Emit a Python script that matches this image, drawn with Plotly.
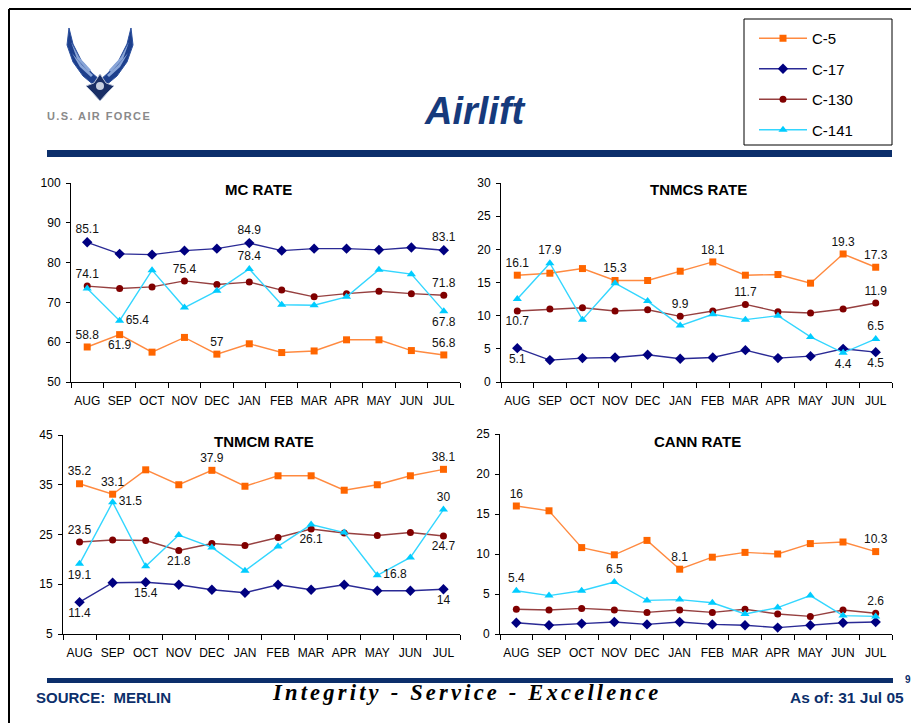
import plotly.graph_objects as go

# ---------------- data ----------------
months = ["AUG", "SEP", "OCT", "NOV", "DEC", "JAN", "FEB", "MAR", "APR", "MAY", "JUN", "JUL"]
series_names = ["C-5", "C-17", "C-130", "C-141"]

mc_c5 = [58.8, 61.9, 57.5, 61.2, 57, 59.6, 57.4, 57.8, 60.6, 60.6, 57.9, 56.8]
mc_c17 = [85.1, 82.2, 82.0, 83.0, 83.5, 84.9, 83.0, 83.5, 83.5, 83.2, 83.8, 83.1]
mc_c130 = [74.1, 73.5, 73.9, 75.4, 74.5, 75.1, 73.1, 71.4, 72.2, 72.8, 72.2, 71.8]
mc_c141 = [73.5, 65.4, 78.1, 68.7, 72.9, 78.4, 69.4, 69.3, 71.4, 78.2, 77.1, 67.8]

tnmcs_c5 = [16.1, 16.4, 17.1, 15.3, 15.3, 16.7, 18.1, 16.1, 16.2, 14.9, 19.3, 17.3]
tnmcs_c17 = [5.1, 3.3, 3.6, 3.7, 4.1, 3.5, 3.7, 4.8, 3.6, 3.9, 5.0, 4.5]
tnmcs_c130 = [10.7, 11.0, 11.2, 10.7, 10.9, 9.9, 10.7, 11.7, 10.6, 10.4, 11.0, 11.9]
tnmcs_c141 = [12.5, 17.9, 9.4, 14.9, 12.2, 8.5, 10.2, 9.4, 10.0, 6.8, 4.4, 6.5]

tnmcm_c5 = [35.2, 33.1, 38.0, 35.0, 37.9, 34.7, 36.8, 36.8, 33.9, 35.0, 36.8, 38.1]
tnmcm_c17 = [11.4, 15.3, 15.4, 14.9, 13.9, 13.3, 14.9, 13.9, 14.9, 13.7, 13.7, 14]
tnmcm_c130 = [23.5, 23.9, 23.8, 21.8, 23.2, 22.8, 24.4, 26.1, 25.3, 24.8, 25.4, 24.7]
tnmcm_c141 = [19.1, 31.5, 18.6, 24.9, 22.4, 17.7, 22.6, 27.0, 25.4, 16.8, 20.4, 30]

cann_c5 = [16, 15.4, 10.8, 9.9, 11.7, 8.1, 9.6, 10.2, 10.0, 11.3, 11.5, 10.3]
cann_c17 = [1.4, 1.1, 1.3, 1.5, 1.2, 1.5, 1.2, 1.1, 0.8, 1.1, 1.4, 1.5]
cann_c130 = [3.1, 3.0, 3.2, 3.0, 2.7, 3.0, 2.7, 3.1, 2.5, 2.2, 3.0, 2.6]
cann_c141 = [5.4, 4.8, 5.4, 6.5, 4.2, 4.3, 3.9, 2.5, 3.3, 4.8, 2.3, 2.2]

chart_titles = ["MC RATE", "TNMCS RATE", "TNMCM RATE", "CANN RATE"]
chart_data = [
    [mc_c5, mc_c17, mc_c130, mc_c141],
    [tnmcs_c5, tnmcs_c17, tnmcs_c130, tnmcs_c141],
    [tnmcm_c5, tnmcm_c17, tnmcm_c130, tnmcm_c141],
    [cann_c5, cann_c17, cann_c130, cann_c141],
]
y_ranges = [(50, 100, 10), (0, 30, 5), (5, 45, 10), (0, 25, 5)]

# which points carry a value label, and where ("t" above, "b" below, "r" right)
point_labels = [
    {"C-5": {"AUG": "t", "SEP": "b", "DEC": "t", "JUL": "t"},
     "C-17": {"AUG": "t", "JAN": "t", "JUL": "t"},
     "C-130": {"AUG": "t", "NOV": "t", "JUL": "t"},
     "C-141": {"SEP": "r", "JAN": "t", "JUL": "b"}},
    {"C-5": {"AUG": "t", "NOV": "t", "FEB": "t", "JUN": "t", "JUL": "t"},
     "C-17": {"AUG": "b", "JUL": "b"},
     "C-130": {"AUG": "b", "JAN": "t", "MAR": "t", "JUL": "t"},
     "C-141": {"SEP": "t", "JUN": "b", "JUL": "t"}},
    {"C-5": {"AUG": "t", "SEP": "t", "DEC": "t", "JUL": "t"},
     "C-17": {"AUG": "b", "OCT": "b", "JUL": "b"},
     "C-130": {"AUG": "t", "NOV": "b", "MAR": "b", "JUL": "b"},
     "C-141": {"AUG": "b", "SEP": "r", "MAY": "r", "JUL": "t"}},
    {"C-5": {"AUG": "t", "JAN": "t", "JUL": "t"},
     "C-17": {},
     "C-130": {"JUL": "t"},
     "C-141": {"AUG": "t", "NOV": "t"}},
]

# ---------------- styling ----------------
PAGE_W, PAGE_H = 919, 723
OFF = 8                      # default body margin of the html page
W, H = PAGE_W - OFF, PAGE_H - OFF
FONT = "Liberation Sans, Arial, sans-serif"
NAVY = "#0c2f6b"
marker_colors = {"C-5": "#FF6600", "C-17": "#000080", "C-130": "#800000", "C-141": "#00CCFF"}
line_colors = {"C-5": "#FF8A40", "C-17": "#2a2a95", "C-130": "#964040", "C-141": "#33D6FF"}
symbols = {"C-5": "square", "C-17": "diamond", "C-130": "circle", "C-141": "triangle-up"}
msizes = {"C-5": 7, "C-17": 8, "C-130": 7, "C-141": 8}
pos_map = {"t": "top center", "b": "bottom center", "r": "middle right"}


def px(x):
    return (x - OFF) / W


def py(y):
    return 1 - (y - OFF) / H


# plot areas in page pixels: (left, right, top, bottom)
areas = [(71, 460, 183, 382), (501, 892, 183, 382), (63, 460, 435, 634), (500, 892, 434, 634)]
title_pos = [(258, 190), (698, 190), (264, 441), (697, 441)]

fig = go.Figure()

for ci in range(4):
    ax = "" if ci == 0 else str(ci + 1)
    for si, name in enumerate(series_names):
        vals = chart_data[ci][si]
        labs = point_labels[ci][name]
        texts = [("%g" % v) if m in labs else "" for m, v in zip(months, vals)]
        tpos = [pos_map[labs[m]] if m in labs else "top center" for m in months]
        fig.add_trace(go.Scatter(
            x=months, y=vals, name=name,
            mode="lines+markers+text",
            text=texts, textposition=tpos,
            textfont=dict(family=FONT, size=12, color="#111111"),
            line=dict(color=line_colors[name], width=1.4),
            marker=dict(symbol=symbols[name], size=msizes[name], color=marker_colors[name],
                        line=dict(width=0)),
            xaxis="x" + ax, yaxis="y" + ax,
            showlegend=(ci == 0), legendgroup=name,
            cliponaxis=False, hoverinfo="skip",
        ))
    l, r, t, b = areas[ci]
    lo, hi, dt = y_ranges[ci]
    fig.layout["xaxis" + ax] = dict(
        domain=[px(l), px(r)], anchor="y" + ax, type="category",
        range=[-0.5, 11.5], showline=True, linecolor="black", linewidth=1,
        ticks="outside", tickson="boundaries", ticklen=5, tickcolor="black",
        tickangle=0, automargin=False, ticklabelstandoff=8,
        tickfont=dict(family=FONT, size=12, color="black"),
        showgrid=False, zeroline=False, fixedrange=True,
    )
    fig.layout["yaxis" + ax] = dict(
        domain=[py(b), py(t)], anchor="x" + ax, automargin=False, ticklabelstandoff=3,
        range=[lo, hi], dtick=dt, tick0=lo, showline=True, linecolor="black", linewidth=1,
        ticks="outside", ticklen=4, tickcolor="black",
        tickfont=dict(family=FONT, size=12, color="black"),
        showgrid=False, zeroline=False, fixedrange=True,
    )
    tx, ty = title_pos[ci]
    fig.add_annotation(x=px(tx), y=py(ty), xref="paper", yref="paper",
                       xanchor="center", yanchor="middle",
                       text="<b>%s</b>" % chart_titles[ci], showarrow=False,
                       font=dict(family=FONT, size=15, color="black"))

shapes = []
# page border (left + top)
shapes.append(dict(type="line", xref="paper", yref="paper", x0=px(9), x1=px(9), y0=py(9), y1=0,
                   line=dict(color="black", width=2)))
shapes.append(dict(type="line", xref="paper", yref="paper", x0=px(9), x1=1, y0=py(9), y1=py(9),
                   line=dict(color="black", width=2)))
# header and footer bars
shapes.append(dict(type="rect", xref="paper", yref="paper", x0=px(47), x1=px(892), y0=py(157), y1=py(150),
                   fillcolor=NAVY, line=dict(width=0)))
shapes.append(dict(type="rect", xref="paper", yref="paper", x0=px(47), x1=px(893), y0=py(683), y1=py(678),
                   fillcolor=NAVY, line=dict(width=0)))
# legend box
shapes.append(dict(type="rect", xref="paper", yref="paper", x0=px(744), x1=px(892), y0=py(145), y1=py(19),
                   fillcolor="white", line=dict(color="black", width=1), layer="below"))


# stylised Air Force symbol
def path(pts):
    return "M " + " L ".join("%f,%f" % (px(a), py(b)) for a, b in pts) + " Z"


CX = 100
left_wing = [(69, 28), (73, 44), (81, 60), (92, 73), (CX, 80), (95, 86), (83, 76), (73, 62), (67, 45)]
right_wing = [(2 * CX - a, b) for a, b in left_wing]
for pts in (left_wing, right_wing):
    shapes.append(dict(type="path", xref="paper", yref="paper", path=path(pts),
                       fillcolor="#1d3f8c", line=dict(color="#2a4f9e", width=1)))
stripe_l = [(71, 42), (79, 57), (91, 70), (89, 72), (77, 59)]
stripe_l2 = [(72, 53), (82, 65), (93, 75), (91, 77), (80, 67)]
for pts in (stripe_l, stripe_l2, [(2 * CX - a, b) for a, b in stripe_l], [(2 * CX - a, b) for a, b in stripe_l2]):
    shapes.append(dict(type="path", xref="paper", yref="paper", path=path(pts),
                       fillcolor="#8aa6d8", line=dict(width=0)))
star = [(CX, 74), (106, 83), (114, 86), (108, 92), (CX, 101), (92, 92), (86, 86), (94, 83)]
shapes.append(dict(type="path", xref="paper", yref="paper", path=path(star),
                   fillcolor="#1a2f66", line=dict(color="#b8c2d8", width=1)))
shapes.append(dict(type="circle", xref="paper", yref="paper", x0=px(96), x1=px(104), y0=py(90), y1=py(82),
                   fillcolor="#c8d0e0", line=dict(width=0)))
fig.update_layout(shapes=shapes)


def note(x, y, text, size, color, family=FONT, xanchor="center"):
    fig.add_annotation(x=px(x), y=py(y), xref="paper", yref="paper", showarrow=False,
                       xanchor=xanchor, yanchor="middle", text=text,
                       font=dict(family=family, size=size, color=color))


# header / footer texts
note(99, 116, '<span style="letter-spacing:1.4px"><b>U.S. AIR FORCE</b></span>', 11, "#8a8a8a")
note(475, 111, "<b><i>Airlift</i></b>", 38, "#163a7c")
note(34, 697, "<b>SOURCE:  MERLIN</b>", 15, NAVY, xanchor="left")
note(906, 697, "<b>As of: 31 Jul 05</b>", 15.5, NAVY, xanchor="right")
note(908, 679, "<b>9</b>", 10, NAVY)
note(467, 692, '<span style="letter-spacing:3.2px"><b><i>Integrity - Service - Excellence</i></b></span>',
     22.5, "black", family="Liberation Serif, Times New Roman, serif")

fig.update_layout(
    width=W, height=H, autosize=False,
    margin=dict(l=0, r=0, t=0, b=0, pad=0, autoexpand=False),
    paper_bgcolor="white", plot_bgcolor="white",
    showlegend=True,
    legend=dict(x=px(754), y=py(22), xanchor="left", yanchor="top",
                bgcolor="rgba(0,0,0,0)", borderwidth=0, itemwidth=48,
                font=dict(family=FONT, size=15, color="black"),
                tracegroupgap=8, itemclick=False, itemdoubleclick=False),
)

fig.write_html("out.html")
